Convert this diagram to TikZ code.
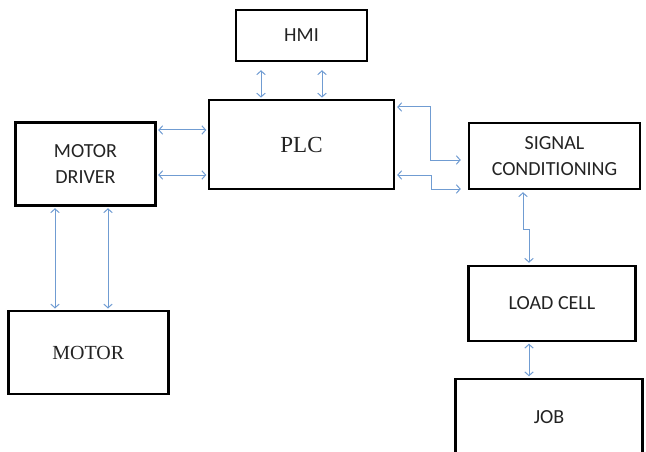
\documentclass[tikz,border=0pt]{standalone}
\usepackage{fontspec}
\setmainfont{Liberation Serif}
\setsansfont{Carlito}
\usetikzlibrary{arrows.meta}
\definecolor{arrblue}{RGB}{112,156,210}
\definecolor{txtgray}{RGB}{35,35,35}
\tikzset{
  blk/.style={draw=black, line width=2.4pt, inner sep=0pt, text=txtgray, align=center},
  sanslbl/.style={font=\sffamily\fontsize{20}{26.5}\selectfont},
  arr/.style={draw=arrblue, line width=1pt, {Straight Barb[length=3.8pt,width=8.5pt]}-{Straight Barb[length=3.8pt,width=8.5pt]}},
}
\begin{document}
\begin{tikzpicture}[x=1pt,y=-1pt]
\useasboundingbox (0,0) rectangle (646,452);
\clip (0,0) rectangle (646,452);
\node[blk, sanslbl, minimum width=131pt, minimum height=51pt] (hmi) at (301.5,35.5) {HMI};
\node[blk, font=\rmfamily\fontsize{23}{27}\selectfont, minimum width=185pt, minimum height=89pt] (plc) at (301.5,144.5) {PLC};
\node[blk, sanslbl, minimum width=140pt, minimum height=83pt] (md) at (85.5,164) {MOTOR\\DRIVER};
\node[blk, sanslbl, minimum width=171pt, minimum height=66pt] (sc) at (554.5,156) {SIGNAL\\CONDITIONING};
\node[blk, sanslbl, minimum width=167pt, minimum height=75pt] (lc) at (552,303.5) {LOAD CELL};
\node[blk, sanslbl, minimum width=187pt, minimum height=77pt] (job) at (549,417.5) {JOB};
\node[blk, font=\rmfamily\fontsize{20}{24}\selectfont, minimum width=160pt, minimum height=83pt] (motor) at (88.3,352.7) {MOTOR};

% HMI - PLC
\draw[arr, shorten <=8pt, shorten >=1.2pt] ([xshift=-40.5pt]hmi.south) -- ([xshift=-40.5pt]plc.north);
\draw[arr, shorten <=8pt, shorten >=1.2pt] ([xshift=20.5pt]hmi.south) -- ([xshift=20.5pt]plc.north);
% MOTOR DRIVER - PLC
\draw[arr, shorten <=1.5pt, shorten >=1.5pt] ([yshift=34pt]md.east) -- ([yshift=34pt]md.east -| plc.west);
\draw[arr, shorten <=1.5pt, shorten >=1.5pt] ([yshift=-11pt]md.east) -- ([yshift=-11pt]md.east -| plc.west);
% MOTOR DRIVER - MOTOR
\draw[arr, shorten <=1.5pt, shorten >=1.5pt] ([xshift=-30.5pt]md.south) -- ([xshift=-33.3pt]motor.north);
\draw[arr, shorten <=1.5pt, shorten >=1.5pt] ([xshift=22.5pt]md.south) -- ([xshift=19.7pt]motor.north);
% PLC - SIGNAL CONDITIONING
\draw[arr, shorten <=2pt] ([yshift=37.5pt]plc.east) -- ++(35,0) |- ([xshift=-7pt,yshift=-4pt]sc.west);
\draw[arr, shorten <=2pt] ([yshift=-30.5pt]plc.east) -- ++(36,0) |- ([xshift=-7pt,yshift=-33pt]sc.west);
% SIGNAL CONDITIONING - LOAD CELL
\draw[arr, shorten <=2pt, shorten >=2pt] ([xshift=-31.5pt]sc.south) -- ++(0,39) -| ([xshift=-23pt]lc.north);
% LOAD CELL - JOB
\draw[arr, shorten <=1.5pt, shorten >=1.5pt] ([xshift=-23pt]lc.south) -- ([xshift=-20pt]job.north);
\end{tikzpicture}
\end{document}
